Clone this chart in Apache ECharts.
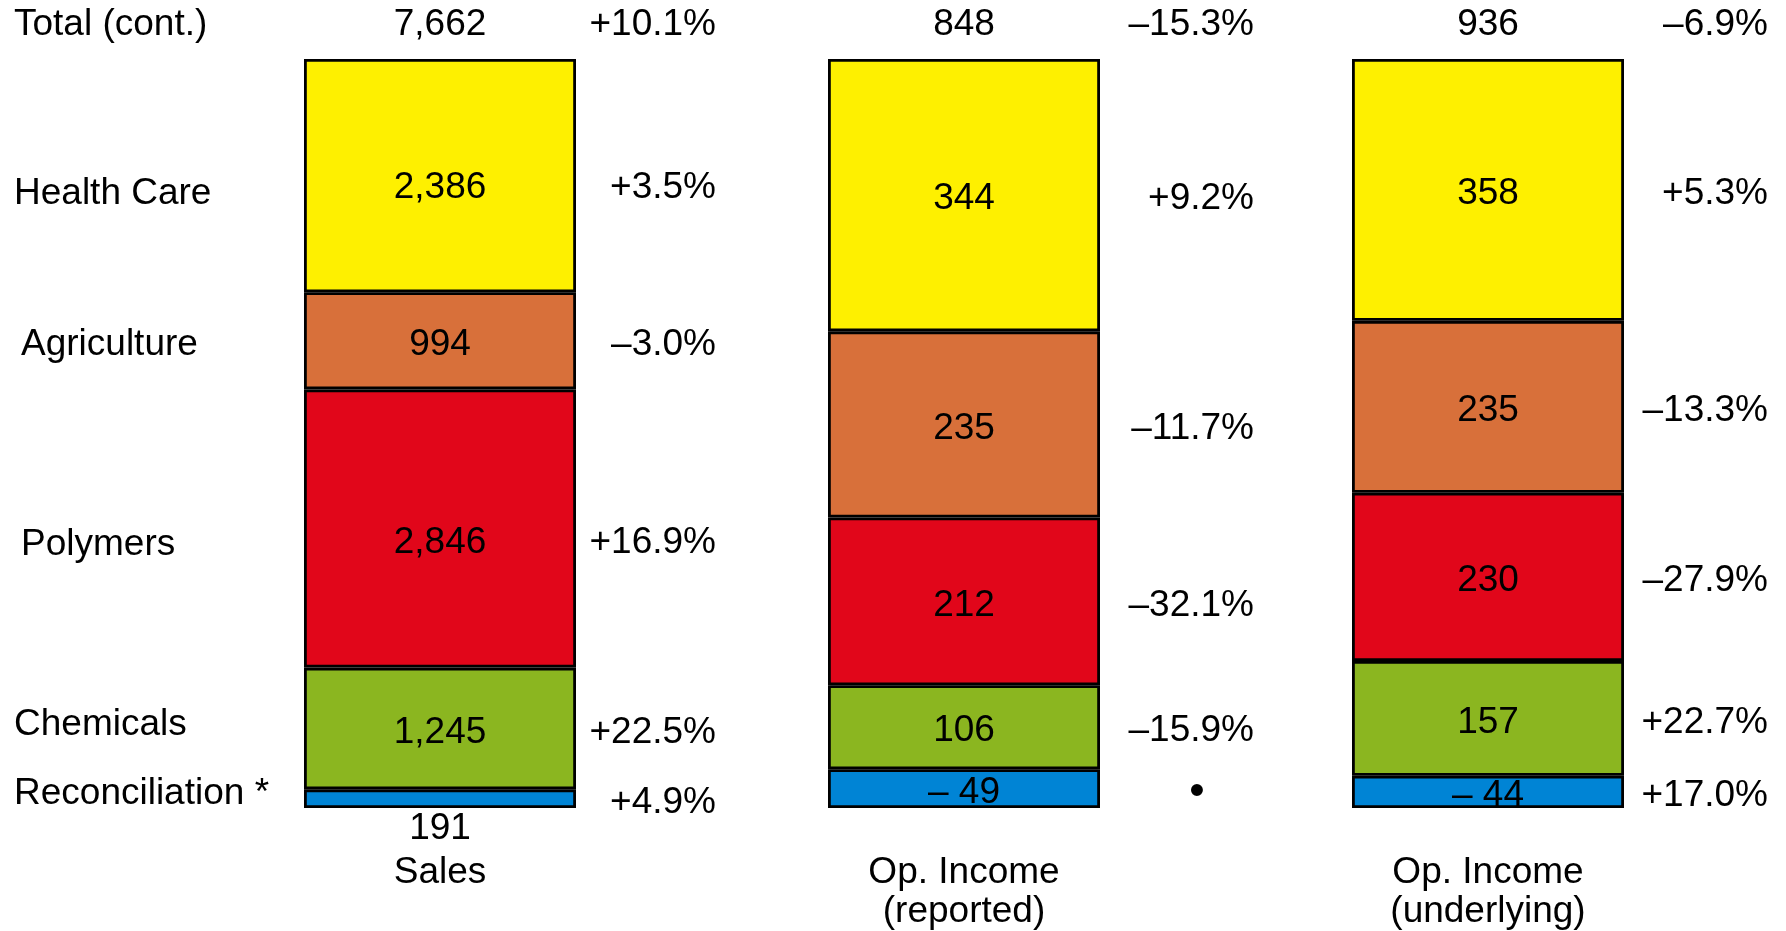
<!DOCTYPE html>
<html>
<head>
<meta charset="utf-8">
<script src="https://cdn.jsdelivr.net/npm/echarts@6/dist/echarts.min.js"></script>
<style>
html, body { margin: 0; padding: 0; background: #fff; }
#chart { width: 1786px; height: 931px; }
</style>
</head>
<body>
<div id="chart"></div>
<script>
// ---- data ----
const categories = ['Sales', 'Op. Income\n(reported)', 'Op. Income\n(underlying)'];
const segmentNames = ['Health Care', 'Agriculture', 'Polymers', 'Chemicals', 'Reconciliation *'];
const totalLabel = 'Total (cont.)';
const healthCare = [2386, 344, 358];
const agriculture = [994, 235, 235];
const polymers = [2846, 212, 230];
const chemicals = [1245, 106, 157];
const reconciliation = [191, -49, -44];
const totals = [7662, 848, 936];
const totalChange = [10.1, -15.3, -6.9];
const healthCareChange = [3.5, 9.2, 5.3];
const agricultureChange = [-3.0, -11.7, -13.3];
const polymersChange = [16.9, -32.1, -27.9];
const chemicalsChange = [22.5, -15.9, 22.7];
const reconciliationChange = [4.9, null, 17.0];

// ---- styling ----
const FONT = '"Liberation Sans", Arial, Helvetica, sans-serif';
const FS = 37;
const colors = ['#FEF000', '#D8703A', '#E1061A', '#8BB620', '#0084D5'];
const PCT_OFF = [276, 290, 280];     // right edge of change labels from bar centre
const TOP_OFF = -34;
const LEFT_OFF = -426;
const DY = 4;                        // general downward nudge of row labels
const salesNudge = [8, 0, 10, 0, 0]; // extra nudge of the Sales row labels
const leftNudge = [[0, 14], [7, 0], [7, 12], [0, -8], [0, -9]];

const rows = [healthCare, agriculture, polymers, chemicals, reconciliation];
const rowChanges = [healthCareChange, agricultureChange, polymersChange, chemicalsChange, reconciliationChange];

const sums = categories.map((c, i) => rows.reduce((s, r) => s + Math.abs(r[i]), 0));
const shares = rows.map(r => r.map((v, i) => Math.abs(v) / sums[i] * 100));

// stacked centres (bottom-up: reconciliation first)
const order = [4, 3, 2, 1, 0];
const centers = rows.map(() => [0, 0, 0]);
categories.forEach((c, i) => {
  let acc = 0;
  order.forEach(k => {
    centers[k][i] = acc + shares[k][i] / 2;
    acc += shares[k][i];
  });
});

function fmtValue(v) {
  const s = Math.abs(v).toLocaleString('en-US');
  return v < 0 ? '\u2013 ' + s : s;
}
function fmtPct(p) {
  if (p === null) return '\u2022';
  return (p < 0 ? '\u2013' : '+') + Math.abs(p).toFixed(1) + '%';
}

const textBase = { color: '#000', fontSize: FS, fontFamily: FONT, textBorderWidth: 0, textBorderColor: 'transparent', opacity: 1 };

const barSeries = order.map(k => ({
  name: segmentNames[k],
  type: 'bar',
  stack: 'all',
  barWidth: 272,
  itemStyle: { color: colors[k], borderColor: '#000', borderWidth: 2.8 },
  label: Object.assign({ show: true, position: 'inside', formatter: p => fmtValue(rows[k][p.dataIndex]) }, textBase),
  emphasis: { disabled: true },
  silent: true,
  data: shares[k].map((v, i) => {
    if (k === 4 && rows[k][i] > 0) {
      return { value: v, label: { position: 'bottom', distance: 2 } };
    }
    return { value: v, label: { offset: [0, DY + (i === 0 ? salesNudge[k] : 0)] } };
  })
}));

const changeData = [];
categories.forEach((c, i) => {
  changeData.push({ value: [i, 100], label: { formatter: fmtPct(totalChange[i]), offset: [PCT_OFF[i], TOP_OFF] } });
  rowChanges.forEach((arr, k) => {
    const p = arr[i];
    const dy = DY + (i === 0 ? salesNudge[k] : 0);
    if (p === null) {
      changeData.push({ value: [i, centers[k][i]], label: { formatter: fmtPct(p), align: 'center', offset: [233, dy], fontSize: 44 } });
    } else {
      changeData.push({ value: [i, centers[k][i]], label: { formatter: fmtPct(p), offset: [PCT_OFF[i], dy] } });
    }
  });
});

const totalData = categories.map((c, i) => ({ value: [i, 100], label: { formatter: totals[i].toLocaleString('en-US') } }));

const leftData = [{ value: [0, 100], label: { formatter: totalLabel, offset: [LEFT_OFF, TOP_OFF] } }]
  .concat(segmentNames.map((n, k) => ({
    value: [0, centers[k][0]],
    label: { formatter: n, offset: [LEFT_OFF + leftNudge[k][0], DY + leftNudge[k][1]] }
  })));

const scatterBase = { type: 'scatter', symbolSize: 0, silent: true, z: 5, itemStyle: { color: '#000', opacity: 1 } };

const chart = echarts.init(document.getElementById('chart'), null, { renderer: 'canvas' });
chart.setOption({
  animation: false,
  backgroundColor: '#fff',
  grid: { left: 178, width: 1572, top: 59, bottom: 123 },
  xAxis: {
    type: 'category',
    data: categories,
    axisLine: { show: false },
    axisTick: { show: false },
    axisLabel: Object.assign({ margin: 45, lineHeight: 39, interval: 0 }, textBase),
    splitLine: { show: false }
  },
  yAxis: { type: 'value', min: 0, max: 100, show: false },
  series: barSeries.concat([
    Object.assign({}, scatterBase, {
      label: Object.assign({ show: true, position: 'inside', align: 'right' }, textBase),
      data: changeData
    }),
    Object.assign({}, scatterBase, {
      label: Object.assign({ show: true, position: 'inside', align: 'center', offset: [0, TOP_OFF] }, textBase),
      data: totalData
    }),
    Object.assign({}, scatterBase, {
      label: Object.assign({ show: true, position: 'inside', align: 'left' }, textBase),
      data: leftData
    })
  ])
});
</script>
</body>
</html>
